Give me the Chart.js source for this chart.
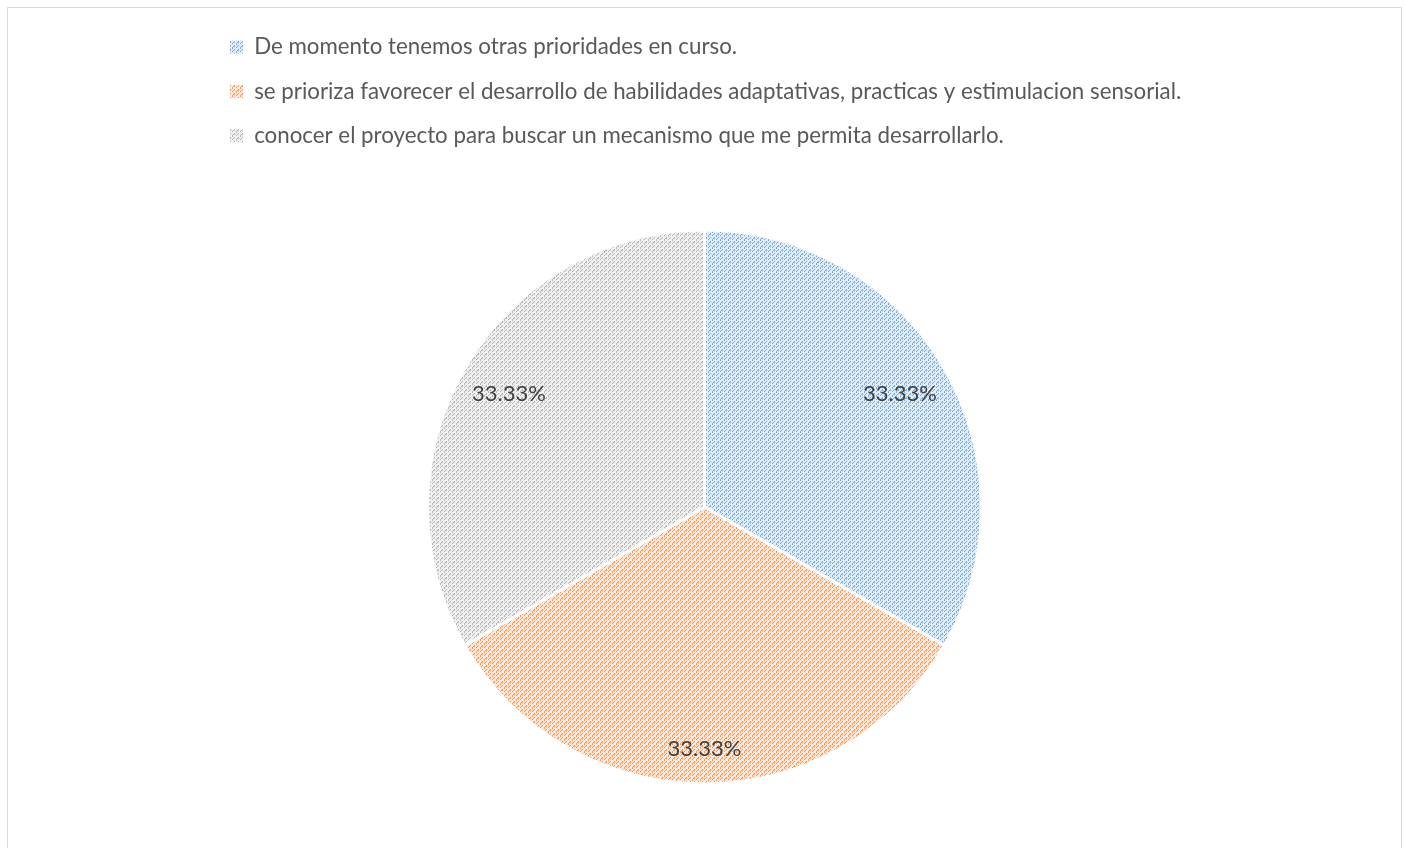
<!DOCTYPE html>
<html>
<head>
<meta charset="utf-8">
<script src="https://cdn.jsdelivr.net/npm/chart.js@4"></script>
<style>
    body { margin: 0; background: #fff; overflow: hidden; }
    #marco {
        position: absolute; left: 7px; top: 7px;
        width: 1393px; height: 850px;
        border: 1px solid #d9d9d9;
    }
</style>
</head>
<body>
<div id="marco"><canvas id="grafico"></canvas></div>
<script>
// Datos del gráfico
const categorias = [
    'De momento tenemos otras prioridades en curso.',
    'se prioriza favorecer el desarrollo de habilidades adaptativas, practicas y estimulacion sensorial.',
    'conocer el proyecto para buscar un mecanismo que me permita desarrollarlo.'
];
const valores = [1, 1, 1];
const etiquetas = ['33.33%', '33.33%', '33.33%'];

// Colores: fondo claro y trama más oscura
const coloresFondo = ['#deebf8', '#fde6d6', '#f0f0f0'];
const coloresTrama = ['#7eaadc', '#f09a63', '#b5b5b5'];

// Trama diagonal discontinua (como el relleno de Excel)
function crearTrama(fondo, trama) {
    const c = document.createElement('canvas');
    c.width = 8; c.height = 8;
    const g = c.getContext('2d');
    g.fillStyle = fondo;
    g.fillRect(0, 0, 8, 8);
    g.fillStyle = trama;
    for (let i = 0; i < 8; i++) {
        if (i % 4 === 3) continue;
        g.fillRect(i, 7 - i, 1, 1);
        g.fillRect(i, (11 - i) % 8, 1, 1);
        if (i % 2 === 0) g.fillRect(i, (8 - i) % 8, 1, 1);
    }
    return g.createPattern(c, 'repeat');
}

const tramas = coloresFondo.map((f, i) => crearTrama(f, coloresTrama[i]));
const factorEtiqueta = [0.815, 0.875, 0.815];

// Mover la leyenda para alinearla a la izquierda del bloque
const moverLeyenda = {
    id: 'moverLeyenda',
    afterLayout(chart) {
        const l = chart.legend;
        const dx = 200 - l.left;
        l.left += dx;
        l.right += dx;
        l.top += 1;
        l.bottom += 1;
    }
};

// Etiquetas de porcentaje dentro de cada sector
const etiquetasSectores = {
    id: 'etiquetasSectores',
    afterDatasetsDraw(chart) {
        const ctx = chart.ctx;
        const meta = chart.getDatasetMeta(0);
        ctx.save();
        ctx.font = '22px Lato, "Open Sans", sans-serif';
        ctx.fillStyle = '#404040';
        ctx.textAlign = 'center';
        ctx.textBaseline = 'middle';
        meta.data.forEach((arco, i) => {
            const p = arco.getProps(['x', 'y', 'startAngle', 'endAngle', 'outerRadius']);
            const a = (p.startAngle + p.endAngle) / 2;
            const r = p.outerRadius * factorEtiqueta[i];
            ctx.fillText(etiquetas[i], p.x + Math.cos(a) * r, p.y + Math.sin(a) * r);
        });
        ctx.restore();
    }
};

new Chart(document.getElementById('grafico'), {
    type: 'pie',
    data: {
        labels: categorias,
        datasets: [{
            data: valores,
            backgroundColor: tramas,
            borderColor: '#ffffff',
            borderWidth: 3,
            radius: 277
        }]
    },
    options: {
        responsive: true,
        maintainAspectRatio: false,
        animation: false,
        layout: { padding: { top: 5 } },
        plugins: {
            legend: {
                position: 'top',
                align: 'start',
                labels: {
                    font: { family: 'Lato, "Open Sans", sans-serif', size: 22.3 },
                    color: '#595959',
                    boxWidth: 13,
                    boxHeight: 13,
                    padding: 22,
                    generateLabels: (chart) =>
                        Chart.overrides.pie.plugins.legend.labels.generateLabels(chart)
                            .map(item => ({ ...item, lineWidth: 0 }))
                }
            },
            tooltip: { enabled: false }
        }
    },
    plugins: [moverLeyenda, etiquetasSectores]
});
</script>
</body>
</html>
